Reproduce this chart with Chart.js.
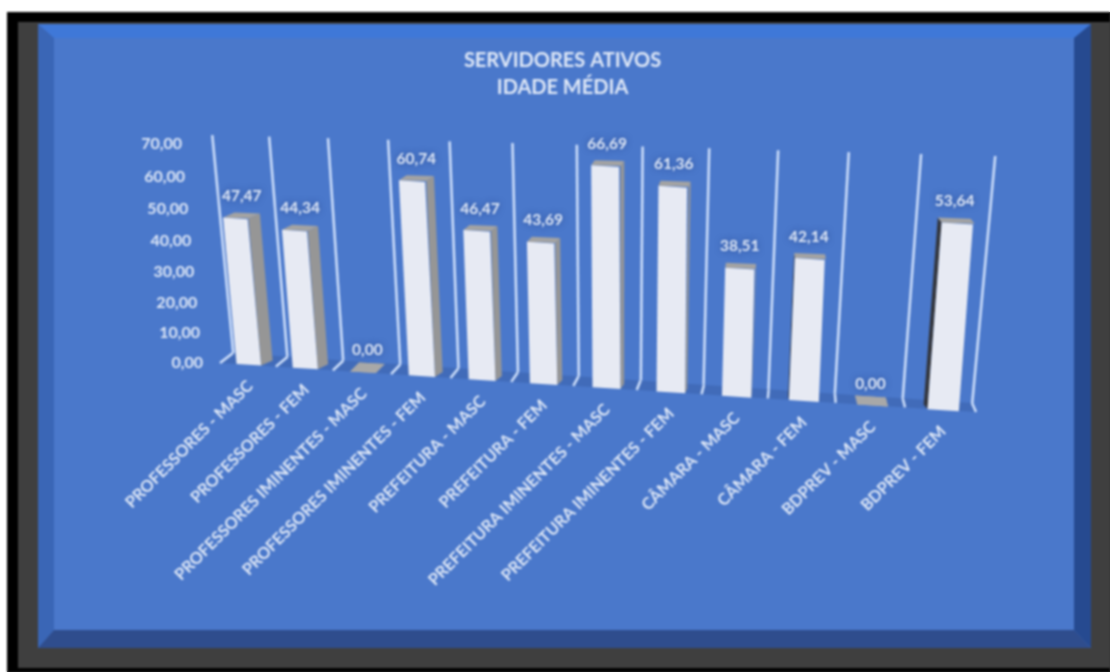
<!DOCTYPE html>
<html>
<head>
<meta charset="utf-8">
<style>
html,body{margin:0;padding:0;height:672px;overflow:hidden;}
html{background:linear-gradient(#fff,#fff) 0 0/7px 100% no-repeat,linear-gradient(#fff 12px,#333 12px);}
body{background:transparent;}
canvas{display:block;filter:blur(0.85px);}
</style>
<script src="https://cdn.jsdelivr.net/npm/chart.js@4"></script>
</head>
<body>
<canvas id="c" width="1110" height="672"></canvas>
<script>
const categories = ["PROFESSORES - MASC","PROFESSORES - FEM","PROFESSORES IMINENTES - MASC","PROFESSORES IMINENTES - FEM","PREFEITURA - MASC","PREFEITURA - FEM","PREFEITURA IMINENTES - MASC","PREFEITURA IMINENTES - FEM","CÂMARA - MASC","CÂMARA - FEM","BDPREV - MASC","BDPREV - FEM"];
const idadeMedia = [47.47,44.34,0,60.74,46.47,43.69,66.69,61.36,38.51,42.14,0,53.64];
const titleLines = ["SERVIDORES ATIVOS","IDADE MÉDIA"];

const fmt = v => Number(v).toFixed(2).replace('.',',');
const FONT = 'Lato';
const TEXT = '#dfe8f7';

// camera: maps the plot rectangle (0..1, 0..1) onto a perspective quadrilateral
function homography(tl,tr,br,bl){
  const dx1=tr[0]-br[0],dx2=bl[0]-br[0],sx=tl[0]-tr[0]+br[0]-bl[0];
  const dy1=tr[1]-br[1],dy2=bl[1]-br[1],sy=tl[1]-tr[1]+br[1]-bl[1];
  const den=dx1*dy2-dx2*dy1;
  const g=(sx*dy2-dx2*sy)/den,h=(dx1*sy-sx*dy1)/den;
  const a=tr[0]-tl[0]+g*tr[0],b=bl[0]-tl[0]+h*bl[0],c=tl[0];
  const d=tr[1]-tl[1]+g*tr[1],e=bl[1]-tl[1]+h*bl[1],f=tl[1];
  return (s,t)=>{const w=g*s+h*t+1;return [(a*s+b*t+c)/w,(d*s+e*t+f)/w];};
}
const barPlane  = homography([200,144],[1001,163.5],[979,412.5],[221,363]);
const wallPlane = homography([212,135],[995,156],[972,403],[233,353]);
const hookPlane = homography([199,144],[997,163.5],[976,412],[220,363]);

function depth(px){return [(770-px)*0.022,-5];}

const perspective = {
  id:'perspective',
  beforeDraw(chart){
    const ctx=chart.ctx,W=chart.width,H=chart.height;
    ctx.save();
    ctx.fillStyle='#ffffff';ctx.fillRect(0,0,W,H);
    ctx.fillStyle='#000000';ctx.fillRect(7,12,W-7,H-12);
    ctx.fillStyle='#3f3f3f';ctx.fillRect(18,22,W-18,646);
    const x0=38,y0=24,x1=1091,y1=648,ix0=54,iy0=38,ix1=1074,iy1=630;
    ctx.fillStyle='#4a78cb';ctx.fillRect(x0,y0,x1-x0,y1-y0);
    const poly=(c,pts)=>{ctx.fillStyle=c;ctx.beginPath();pts.forEach((p,i)=>i?ctx.lineTo(p[0],p[1]):ctx.moveTo(p[0],p[1]));ctx.closePath();ctx.fill();};
    poly('#3f78d8',[[x0,y0],[x1,y0],[ix1,iy0],[ix0,iy0]]);
    poly('#3a66b6',[[x0,y0],[ix0,iy0],[ix0,iy1],[x0,y1]]);
    poly('#2f4d8d',[[x0,y1],[ix0,iy1],[ix1,iy1],[x1,y1]]);
    poly('#264a90',[[x1,y0],[ix1,iy0],[ix1,iy1],[x1,y1]]);
    ctx.restore();

    const A=chart.chartArea,norm=(x,y)=>[(x-A.left)/(A.right-A.left),(y-A.top)/(A.bottom-A.top)];
    const xs=chart.scales.x,ys=chart.scales.y;
    // dividers, ticks and labels come from the scales; only their placement is projected
    xs._gridLineItems=xs._computeGridLineItems(A).map(it=>{
      const s=norm(it.x1,0)[0],p=wallPlane(s,0),q=wallPlane(s,1);
      return Object.assign(it,{x1:p[0],y1:p[1],x2:q[0],y2:q[1]});
    });
    xs._computeLabelArea=()=>undefined;
    ys._computeLabelArea=()=>undefined;
    xs.getLabelItems(A).forEach(it=>{
      const tr=it.options.translation,s=norm(tr[0],0)[0],p=barPlane(s,1);
      it.options.translation=[p[0]+6,p[1]+19];
      it.textOffset=0;
    });
    ys.getLabelItems(A).forEach(it=>{
      const tr=it.options.translation,t=norm(0,tr[1])[1],p=barPlane(0,t);
      it.options.translation=[p[0]-18,p[1]];
      it.textOffset=0;
    });
    chart.$norm=norm;
  },
  beforeDatasetsDraw(chart){
    const ctx=chart.ctx;
    // floor strip and the short hooks at the foot of each divider
    ctx.save();
    ctx.fillStyle='rgba(38,66,125,0.22)';
    ctx.beginPath();
    const a=wallPlane(0,1),b=wallPlane(1,1),c=hookPlane(1,1),d=hookPlane(0,1);
    [a,b,c,d].forEach((p,i)=>i?ctx.lineTo(p[0],p[1]):ctx.moveTo(p[0],p[1]));
    ctx.closePath();ctx.fill();
    ctx.strokeStyle='#cfe0fb';ctx.lineWidth=2.5;
    for(let i=0;i<=categories.length;i++){
      const s=i/categories.length,p=wallPlane(s,1),q=hookPlane(s,1);
      ctx.beginPath();ctx.moveTo(p[0],p[1]);ctx.lineTo(q[0],q[1]);ctx.stroke();
    }
    ctx.restore();
  },
  beforeDatasetDraw(chart,args){
    const ctx=chart.ctx,norm=chart.$norm;
    args.meta.data.forEach((el,i)=>{
      const w=el.width,xL=el.x-w/2,xR=el.x+w/2;
      const [sL,tB]=norm(xL,el.base),[sR,tT]=norm(xR,el.y);
      const BL=barPlane(sL,tB),BR=barPlane(sR,tB),TL=barPlane(sL,tT),TR=barPlane(sR,tT);
      const flat=el.base-el.y<1;
      const dv=depth((BL[0]+BR[0])/2);
      if(flat) dv[1]=-9;
      const off=p=>[p[0]+dv[0],p[1]+dv[1]];
      const poly=(c,pts)=>{ctx.fillStyle=c;ctx.beginPath();pts.forEach((p,j)=>j?ctx.lineTo(p[0],p[1]):ctx.moveTo(p[0],p[1]));ctx.closePath();ctx.fill();};
      ctx.save();
      if(dv[0]>0) poly('#969696',[BR,TR,off(TR),off(BR)]);
      else poly('#33363d',[BL,TL,off(TL),off(BL)]);
      poly('#a3a3a3',[TL,TR,off(TR),off(TL)]);
      if(flat) poly('#a8a8a8',[BL,BR,off(BR),off(BL)]);
      // library bar element, placed through the local affine of the camera
      const sxx=(BR[0]-BL[0])/w,sxy=(BR[1]-BL[1])/w;
      const h=el.base-el.y||1;
      const syx=(BL[0]-TL[0])/h,syy=(BL[1]-TL[1])/h;
      ctx.transform(sxx,sxy,syx,syy,BL[0]-sxx*xL-syx*el.base,BL[1]-sxy*xL-syy*el.base);
      el.draw(ctx,chart.chartArea);
      ctx.restore();
    });
    return false;
  },
  afterDatasetsDraw(chart){
    const ctx=chart.ctx,norm=chart.$norm,meta=chart.getDatasetMeta(0);
    ctx.save();
    ctx.font='bold 15.5px '+FONT;
    ctx.textAlign='center';ctx.textBaseline='middle';
    ctx.fillStyle=TEXT;
    ctx.shadowColor='rgba(40,70,140,0.8)';ctx.shadowBlur=6;
    meta.data.forEach((el,i)=>{
      const [s,t]=norm(el.x,el.y),p=barPlane(s,t);
      ctx.fillText(fmt(idadeMedia[i]),p[0]+(700-p[0])*0.013,p[1]-22);
    });
    ctx.restore();
  }
};

new Chart(document.getElementById('c'),{
  type:'bar',
  data:{labels:categories,datasets:[{
    label:'Idade média',
    data:idadeMedia,
    backgroundColor:'#e7eaf3',
    borderWidth:0,
    categoryPercentage:1,
    barPercentage:0.44
  }]},
  plugins:[perspective],
  options:{
    responsive:false,
    animation:false,
    layout:{padding:{top:47,left:38,right:23,bottom:30}},
    plugins:{
      legend:{display:false},
      tooltip:{enabled:false},
      title:{display:true,text:titleLines,color:TEXT,align:'center',
        font:{family:FONT,size:20,weight:'bold',lineHeight:1.35},padding:{top:0,bottom:10}}
    },
    scales:{
      x:{
        offset:true,
        grid:{display:true,offset:true,color:'#cfe0fb',lineWidth:2.5,drawTicks:false},
        border:{display:false},
        ticks:{autoSkip:false,minRotation:45,maxRotation:45,color:TEXT,font:{family:FONT,size:16.3,weight:'bold'}}
      },
      y:{
        min:0,max:70,
        grid:{display:false},
        border:{display:false},
        ticks:{stepSize:10,color:TEXT,font:{family:FONT,size:16,weight:'bold'},callback:fmt}
      }
    }
  }
});
</script>
</body>
</html>
